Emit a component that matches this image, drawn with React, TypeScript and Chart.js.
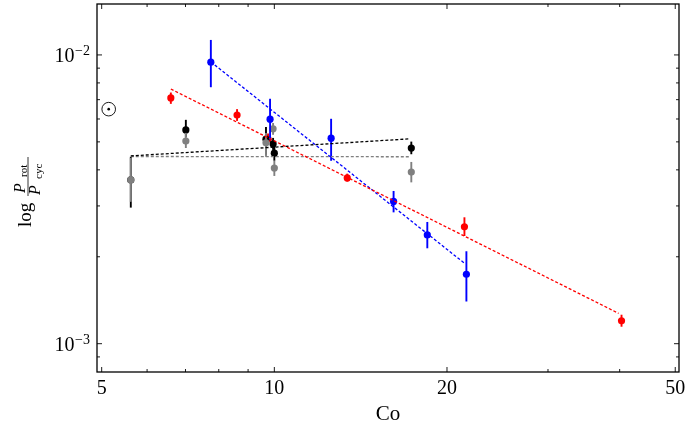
import { useEffect, useRef } from "react";
import { Chart, registerables } from "chart.js";

Chart.register(...registerables);

// values (log-log axes)
const redX = [6.6, 8.61, 9.75, 13.4, 21.45, 40.3];
const redY = [0.0071, 0.00619, 0.00512, 0.00375, 0.00254, 0.0012];
const redLo = [0.00677, 0.00591, 0.0049, 0.00364, 0.00236, 0.001145];
const redHi = [0.00741, 0.00649, 0.00535, 0.00388, 0.00274, 0.00126];

const blueX = [7.75, 9.83, 12.56, 16.14, 18.48, 21.62];
const blueY = [0.00944, 0.00599, 0.00515, 0.00311, 0.00238, 0.00174];
const blueLo = [0.00773, 0.00508, 0.0043, 0.00285, 0.00214, 0.0014];
const blueHi = [0.01127, 0.00705, 0.00601, 0.00338, 0.00264, 0.00209];

const blackX = [5.62, 7.01, 9.67, 9.95, 10.0, 17.33];
const blackY = [0.00369, 0.0055, 0.00511, 0.00492, 0.00457, 0.00476];
const blackLo = [0.00296, 0.0052, 0.00451, 0.00469, 0.0043, 0.00453];
const blackHi = [0.00444, 0.00596, 0.00563, 0.00516, 0.00484, 0.00501];

const grayX = [5.62, 7.01, 9.67, 9.95, 10.0, 17.33];
const grayY = [0.00369, 0.00503, 0.00496, 0.00555, 0.00406, 0.00393];
const grayLo = [0.0031, 0.00476, 0.00444, 0.00529, 0.00381, 0.00362];
const grayHi = [0.0044, 0.00537, 0.00537, 0.00581, 0.0043, 0.00426];

const redFitX = [6.6, 39.83];
const redFitY = [0.00762, 0.001274];
const blueFitX = [7.75, 21.45];
const blueFitY = [0.00946, 0.0019];
const blackFitX = [5.62, 17.19];
const blackFitY = [0.00447, 0.00512];
const grayFitX = [5.62, 17.19];
const grayFitY = [0.00445, 0.00444];

const sunX = [5.143];
const sunY = [0.00649];

const xMajor = [5, 10, 20, 50];
const xMinor = [6, 7, 8, 9, 30, 40];
const yMajor = [0.001, 0.01];
const yExp = ["\u22123", "\u22122"];
const yMinor = [0.0009, 0.002, 0.003, 0.004, 0.005, 0.006, 0.007, 0.008, 0.009];

const SERIF = '"Liberation Serif", "DejaVu Serif", serif';

const pts = (xs: number[], ys: number[], lo?: number[], hi?: number[]) =>
  xs.map((x, i) => ({ x, y: ys[i], lo: lo ? lo[i] : undefined, hi: hi ? hi[i] : undefined }));

const series = (color: string, xs: number[], ys: number[], lo: number[], hi: number[], order: number) => ({
  type: "scatter" as const,
  data: pts(xs, ys, lo, hi),
  backgroundColor: color,
  borderColor: color,
  borderWidth: 0,
  pointRadius: 3.6,
  errorBars: true,
  order,
});

const fit = (color: string, xs: number[], ys: number[]) => ({
  type: "line" as const,
  data: pts(xs, ys),
  borderColor: color,
  borderWidth: 1.3,
  borderDash: [3, 2],
  pointRadius: 0,
  fill: false,
  order: 0,
});

const errorBarPlugin = {
  id: "errorBars",
  beforeDatasetDraw(chart: any, args: any) {
    const ds = chart.data.datasets[args.index];
    if (!ds.errorBars) return;
    const { ctx, scales } = chart;
    ctx.save();
    ctx.strokeStyle = ds.borderColor;
    ctx.lineWidth = 1.9;
    ds.data.forEach((p: any) => {
      const px = scales.x.getPixelForValue(p.x);
      ctx.beginPath();
      ctx.moveTo(px, scales.y.getPixelForValue(p.lo));
      ctx.lineTo(px, scales.y.getPixelForValue(p.hi));
      ctx.stroke();
    });
    ctx.restore();
  },
};

const framePlugin = {
  id: "frame",
  afterDraw(chart: any) {
    const { ctx, chartArea: a, scales } = chart;
    const { x, y } = scales;
    ctx.save();
    ctx.strokeStyle = "#000";
    ctx.lineWidth = 1.3;
    ctx.strokeRect(a.left, a.top, a.right - a.left, a.bottom - a.top);

    ctx.lineWidth = 0.9;
    const xt = (v: number, len: number) => {
      const px = x.getPixelForValue(v);
      ctx.beginPath();
      ctx.moveTo(px, a.bottom);
      ctx.lineTo(px, a.bottom - len);
      ctx.moveTo(px, a.top);
      ctx.lineTo(px, a.top + len);
      ctx.stroke();
    };
    const yt = (v: number, len: number) => {
      const py = y.getPixelForValue(v);
      ctx.beginPath();
      ctx.moveTo(a.left, py);
      ctx.lineTo(a.left + len, py);
      ctx.moveTo(a.right, py);
      ctx.lineTo(a.right - len, py);
      ctx.stroke();
    };
    xMajor.forEach((v) => xt(v, 5));
    xMinor.forEach((v) => xt(v, 3));
    yMajor.forEach((v) => yt(v, 5));
    yMinor.forEach((v) => yt(v, 3));

    // y tick labels 10^n
    ctx.fillStyle = "#000";
    ctx.textBaseline = "alphabetic";
    yMajor.forEach((v, i) => {
      const py = y.getPixelForValue(v);
      ctx.font = `14px ${SERIF}`;
      const supW = ctx.measureText(yExp[i]).width;
      ctx.textAlign = "right";
      ctx.fillText(yExp[i], 90, py);
      ctx.font = `20px ${SERIF}`;
      ctx.fillText("10", 90 - supW - 0.5, py + 7);
    });

    // x title
    ctx.textAlign = "center";
    ctx.font = `21px ${SERIF}`;
    ctx.fillText("Co", (a.left + a.right) / 2, 420);

    // y title: log P_rot / P_cyc, rotated
    ctx.translate(0, 227);
    ctx.rotate(-Math.PI / 2);
    ctx.textAlign = "left";
    ctx.font = `19px ${SERIF}`;
    ctx.fillText("log", 0, 31);
    ctx.beginPath();
    ctx.lineWidth = 0.8;
    ctx.moveTo(31, 28);
    ctx.lineTo(70, 28);
    ctx.stroke();
    ctx.font = `italic 16px ${SERIF}`;
    ctx.fillText("P", 34, 25);
    ctx.fillText("P", 32, 40);
    ctx.font = `11px ${SERIF}`;
    ctx.fillText("rot", 50, 27);
    ctx.fillText("cyc", 48, 42);
    ctx.restore();
  },
};

export default function App() {
  const canvasRef = useRef<HTMLCanvasElement>(null);
  const chartRef = useRef<Chart | null>(null);

  useEffect(() => {
    document.body.style.margin = "0";
    if (!canvasRef.current) return;
    chartRef.current?.destroy();

    chartRef.current = new Chart(canvasRef.current, {
      type: "scatter",
      data: {
        datasets: [
          fit("#ff0000", redFitX, redFitY),
          fit("#0000ff", blueFitX, blueFitY),
          fit("#000000", blackFitX, blackFitY),
          fit("#808080", grayFitX, grayFitY),
          series("#0000ff", blueX, blueY, blueLo, blueHi, 1),
          series("#808080", grayX, grayY, grayLo, grayHi, 2),
          series("#000000", blackX, blackY, blackLo, blackHi, 3),
          series("#ff0000", redX, redY, redLo, redHi, 4),
          {
            type: "scatter",
            data: pts(sunX, sunY),
            pointRadius: 6.8,
            borderWidth: 0.9,
            borderColor: "#000",
            backgroundColor: "rgba(0,0,0,0)",
            order: 5,
          },
          {
            type: "scatter",
            data: pts(sunX, sunY),
            pointRadius: 1.3,
            borderWidth: 0,
            backgroundColor: "#000",
            order: 5,
          },
        ] as any,
      },
      options: {
        animation: false,
        responsive: true,
        maintainAspectRatio: false,
        layout: { autoPadding: false, padding: { top: 4, right: 14, left: 0, bottom: 0 } },
        plugins: { legend: { display: false }, tooltip: { enabled: false } },
        scales: {
          x: {
            type: "logarithmic",
            min: 4.907,
            max: 50.76,
            bounds: "data",
            grid: { display: false, drawTicks: false },
            border: { display: false },
            ticks: {
              autoSkip: false,
              maxRotation: 0,
              padding: 5,
              color: "#000",
              font: { family: SERIF, size: 20 },
              callback: (v: any) => String(v),
            },
            afterBuildTicks: (s: any) => {
              s.ticks = xMajor.map((v) => ({ value: v }));
            },
            afterFit: (s: any) => {
              s.height = 56;
            },
          },
          y: {
            type: "logarithmic",
            min: 0.000798,
            max: 0.01501,
            bounds: "data",
            grid: { display: false, drawTicks: false },
            border: { display: false },
            ticks: { display: false },
            afterFit: (s: any) => {
              s.width = 97;
            },
          },
        },
      },
      plugins: [errorBarPlugin, framePlugin],
    });

    return () => {
      chartRef.current?.destroy();
    };
  }, []);

  return (
    <div style={{ width: 693, height: 428, position: "relative" }}>
      <canvas ref={canvasRef} />
    </div>
  );
}
